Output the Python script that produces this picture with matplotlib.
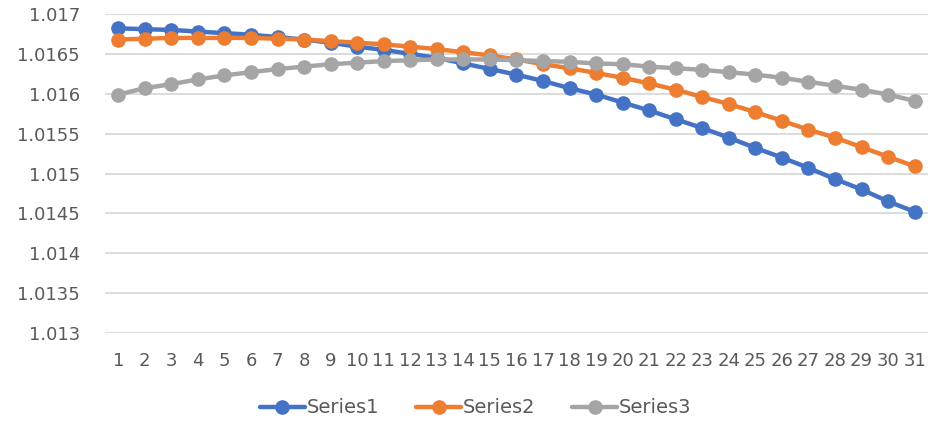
import matplotlib
matplotlib.use("Agg")
import matplotlib.pyplot as plt
from matplotlib.ticker import MultipleLocator, FuncFormatter

categories = list(range(1, 32))

series1 = [1.01682, 1.01681, 1.01680, 1.01678, 1.01676, 1.01674, 1.01671, 1.01668,
           1.01664, 1.01659, 1.01655, 1.01650, 1.01645, 1.01638, 1.01631, 1.01624,
           1.01616, 1.01607, 1.01599, 1.01589, 1.01579, 1.01568, 1.01557, 1.01545,
           1.01532, 1.01520, 1.01507, 1.01493, 1.01480, 1.01465, 1.01452]

series2 = [1.01668, 1.01669, 1.01670, 1.01670, 1.01670, 1.01670, 1.01669, 1.01668,
           1.01666, 1.01664, 1.01662, 1.01659, 1.01656, 1.01652, 1.01648, 1.01643,
           1.01637, 1.01632, 1.01626, 1.01620, 1.01613, 1.01605, 1.01596, 1.01587,
           1.01577, 1.01566, 1.01555, 1.01545, 1.01533, 1.01521, 1.01509]

series3 = [1.01599, 1.01607, 1.01612, 1.01618, 1.01623, 1.01627, 1.01631, 1.01634,
           1.01637, 1.01639, 1.01641, 1.01642, 1.01643, 1.01643, 1.01643, 1.01642,
           1.01641, 1.01640, 1.01638, 1.01637, 1.01634, 1.01632, 1.01630, 1.01627,
           1.01624, 1.01620, 1.01615, 1.01610, 1.01605, 1.01599, 1.01591]

series_names = ["Series1", "Series2", "Series3"]
colors = ["#4472C4", "#ED7D31", "#A5A5A5"]

y_min, y_max, y_step = 1.013, 1.017, 0.0005

plt.rcParams["font.family"] = ["DejaVu Sans"]
text_color = "#595959"
fs = 13

fig = plt.figure(figsize=(9.33, 4.24), dpi=100)
ax = fig.add_axes([0.1125, 0.2146, 0.8821, 0.7524])

for values, name, color in zip([series1, series2, series3], series_names, colors):
    ax.plot(categories, values, color=color, lw=3.2, marker="o", markersize=9.5,
            label=name, solid_capstyle="round")

ax.set_xlim(0.5, 31.5)
ax.set_ylim(y_min, y_max)
ax.yaxis.set_major_locator(MultipleLocator(y_step))
ax.yaxis.set_major_formatter(FuncFormatter(lambda v, p: f"{v:.4f}".rstrip("0")))
ax.set_xticks(categories)
ax.set_xticklabels([str(c) for c in categories])

ax.grid(axis="y", color="#D9D9D9", lw=1.3)
ax.set_axisbelow(True)
for s in ax.spines.values():
    s.set_visible(False)
ax.tick_params(axis="both", length=0, colors=text_color, labelsize=fs)
ax.tick_params(axis="y", pad=18)
ax.tick_params(axis="x", pad=14)

leg = fig.legend(loc="center", bbox_to_anchor=(0.51, 0.038), ncol=3, frameon=False,
                 fontsize=14, handlelength=2.3, columnspacing=1.9, handletextpad=0.1)
for t in leg.get_texts():
    t.set_color(text_color)

fig.savefig("out.png", dpi=100)
